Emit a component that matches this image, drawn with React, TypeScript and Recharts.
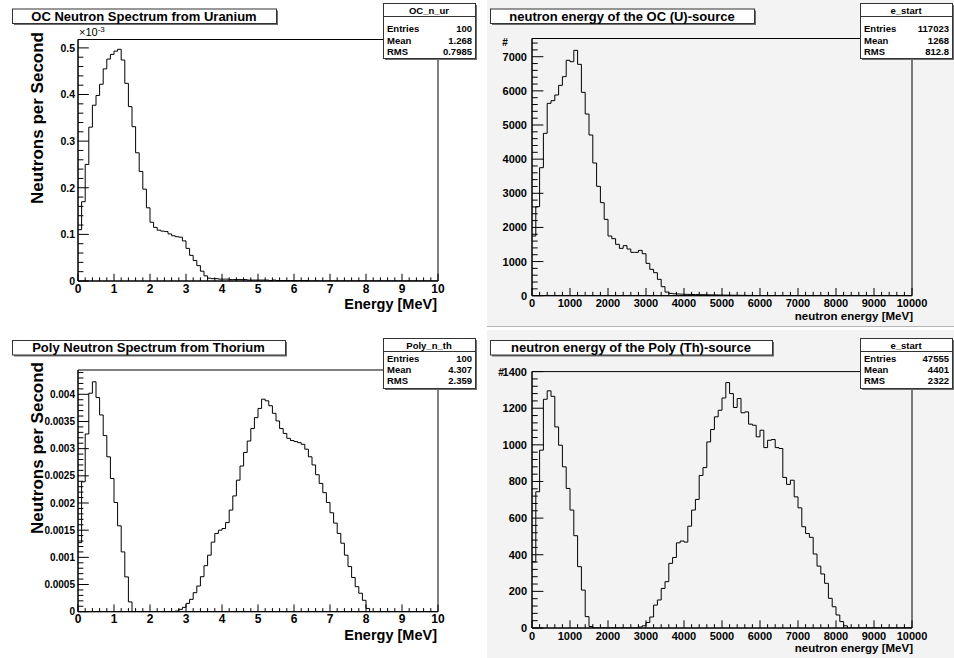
import React from "react";
import { LineChart, Line, XAxis, YAxis, ReferenceArea } from "recharts";

// bin contents, 100 bins per histogram
// OC neutron spectrum from uranium, neutrons per second in units of 1e-3
const ocUrBinsE3 = [
  0.110, 0.170, 0.250, 0.330, 0.377, 0.398, 0.422, 0.455, 0.476, 0.486,
  0.493, 0.497, 0.474, 0.424, 0.374, 0.331, 0.275, 0.235, 0.197, 0.157,
  0.126, 0.115, 0.109, 0.107, 0.106, 0.101, 0.097, 0.095, 0.094, 0.086,
  0.070, 0.055, 0.044, 0.033, 0.021, 0.011, 0.006, 0.005, 0.005, 0.004,
  0.004, 0.004, 0.003, 0.003, 0.003, 0.003, 0.003, 0.002, 0.002, 0.002,
  0.002, 0.002, 0.002, 0.001, 0.002, 0.001, 0.001, 0.001, 0.001, 0.001,
  0.001, 0.001, 0.001, 0.001, 0, 0, 0, 0, 0, 0,
  0, 0, 0, 0, 0, 0, 0, 0, 0, 0,
  0, 0, 0, 0, 0, 0, 0, 0, 0, 0,
  0, 0, 0, 0, 0, 0, 0, 0, 0, 0,
];

// e_start of the OC (U) source, counts per 100 bin
const ocStartBins = [
  1748, 2607, 3750, 4756, 5635, 5713, 5879, 6162, 6416, 6895,
  6855, 7187, 6777, 5957, 5322, 4707, 3887, 3203, 2725, 2236,
  1748, 1670, 1504, 1387, 1465, 1367, 1270, 1270, 1328, 1230,
  947, 771, 674, 479, 264, 107, 68, 55, 50, 45,
  40, 38, 35, 33, 30, 28, 26, 24, 22, 20,
  18, 16, 15, 14, 12, 10, 9, 8, 7, 6,
  5, 4, 3, 2, 1, 0, 0, 0, 0, 0,
  0, 0, 0, 0, 0, 0, 0, 0, 0, 0,
  0, 0, 0, 0, 0, 0, 0, 0, 0, 0,
  0, 0, 0, 0, 0, 0, 0, 0, 0, 0,
];

// Poly neutron spectrum from thorium, neutrons per second
const polyThBins = [
  0.00127, 0.00239, 0.00327, 0.00402, 0.00423, 0.00394, 0.00362, 0.00324, 0.00285, 0.00245,
  0.00201, 0.00158, 0.00110, 0.00064, 0.00018, 0, 0, 0, 0, 0,
  0, 0, 0, 0, 0, 0, 0, 0.000012, 0.000043, 0.00008,
  0.000153, 0.000227, 0.00035, 0.000472, 0.000644, 0.000847, 0.00104, 0.00128, 0.00144, 0.0015,
  0.00153, 0.00164, 0.00187, 0.00213, 0.00242, 0.00268, 0.00293, 0.00314, 0.00337, 0.00357,
  0.00374, 0.00391, 0.00388, 0.00379, 0.00365, 0.00351, 0.00337, 0.00328, 0.00319, 0.00315,
  0.00313, 0.00311, 0.00308, 0.00299, 0.00285, 0.0027, 0.00252, 0.00236, 0.00219, 0.00201,
  0.00182, 0.00163, 0.00144, 0.00126, 0.00104, 0.00083, 0.00063, 0.00046, 0.00034, 0.00021,
  0.00006, 0, 0, 0, 0, 0, 0, 0, 0, 0,
  0, 0, 0, 0, 0, 0, 0, 0, 0, 0,
];

// e_start of the Poly (Th) source, counts per 100 bin
const polyStartBins = [
  362, 744, 971, 1249, 1295, 1265, 1098, 998, 880, 762,
  644, 504, 335, 207, 62, 8, 0, 0, 0, 0,
  0, 0, 0, 0, 0, 0, 0, 0, 5, 12,
  30, 60, 125, 153, 216, 253, 353, 385, 465, 475,
  469, 556, 644, 702, 833, 876, 1016, 1084, 1153, 1189,
  1256, 1340, 1280, 1204, 1253, 1175, 1180, 1113, 1107, 1044,
  1080, 985, 1025, 1029, 985, 980, 822, 784, 807, 716,
  656, 553, 516, 495, 404, 338, 295, 244, 162, 116,
  71, 35, 12, 0, 0, 0, 0, 0, 0, 0,
  0, 0, 0, 0, 0, 0, 0, 0, 0, 0,
];

const mevTicks = [0, 1, 2, 3, 4, 5, 6, 7, 8, 9, 10];
const startTicks = [0, 1000, 2000, 3000, 4000, 5000, 6000, 7000, 8000, 9000, 10000];
const ocUrYTicks = [0, 0.1, 0.2, 0.3, 0.4, 0.5];
const ocStartYTicks = [0, 1000, 2000, 3000, 4000, 5000, 6000, 7000];
const polyThYTicks = [0, 0.0005, 0.001, 0.0015, 0.002, 0.0025, 0.003, 0.0035, 0.004];
const polyStartYTicks = [0, 200, 400, 600, 800, 1000, 1200, 1400];

const FONT = "'Liberation Sans', Arial, Helvetica, sans-serif";

type Panel = {
  box: { x: number; y: number; w: number; h: number };
  frame: { x0: number; x1: number; y0: number; y1: number };
  bins: number[];
  xMax: number;
  yMax: number;
  xMajors: number[];
  yMajors: number[];
  xLabelSize: number;
  yLabelSize: number;
  xLabelDy: number;
  yLabelGap: number;
};

const round9 = (v: number) => Math.round(v * 1e9) / 1e9;

function withMinor(majors: number[], div: number, max: number) {
  const step = (majors[1] - majors[0]) / div;
  const out: number[] = [];
  for (let i = 0; ; i++) {
    const t = round9(i * step);
    if (t > max + 1e-12) break;
    out.push(t);
  }
  return out;
}

const isMajor = (v: number, majors: number[]) => majors.some((m) => Math.abs(m - v) < 1e-9);

function HistPanel({ p }: { p: Panel }) {
  const { box, frame } = p;
  const left = frame.x0 - box.x;
  const top = frame.y0 - box.y;
  const right = box.x + box.w - frame.x1;
  const bottom = box.y + box.h - frame.y1;
  const fw = frame.x1 - frame.x0;
  const fh = frame.y1 - frame.y0;
  const xLen = 0.03 * fh;
  const yLen = 0.03 * fw;
  const binW = p.xMax / p.bins.length;
  const data = p.bins
    .map((v, i) => ({ e: round9(i * binW), v }))
    .concat([{ e: p.xMax, v: p.bins[p.bins.length - 1] }]);

  const xTick = (t: any) => {
    const v = t.payload.value;
    const major = isMajor(v, p.xMajors);
    return (
      <g>
        <line x1={t.x} x2={t.x} y1={t.y} y2={t.y - (major ? xLen : xLen / 2)} stroke="#000" />
        {major && (
          <text x={t.x} y={t.y + p.xLabelDy} textAnchor="middle" fontSize={p.xLabelSize}
            fontWeight="bold" fontFamily={FONT} fill="#000">
            {String(v)}
          </text>
        )}
      </g>
    );
  };
  const yTick = (t: any) => {
    const v = t.payload.value;
    const major = isMajor(v, p.yMajors);
    return (
      <g>
        <line x1={t.x} x2={t.x + (major ? yLen : yLen / 2)} y1={t.y} y2={t.y} stroke="#000" />
        {major && (
          <text x={t.x - p.yLabelGap} y={t.y + p.yLabelSize * 0.36} textAnchor="end" fontSize={p.yLabelSize}
            fontWeight="bold" fontFamily={FONT} fill="#000">
            {String(v)}
          </text>
        )}
      </g>
    );
  };

  return (
    <div style={{ position: "absolute", left: box.x, top: box.y }}>
      <LineChart width={box.w} height={box.h} data={data}
        margin={{ top, right, bottom: 0, left: 0 }}>
        <XAxis type="number" dataKey="e" domain={[0, p.xMax]} allowDataOverflow
          ticks={withMinor(p.xMajors, 5, p.xMax)} interval={0} tickSize={0} tickMargin={0}
          height={bottom} tick={xTick} tickLine={false} axisLine={{ stroke: "#000" }} />
        <YAxis type="number" domain={[0, p.yMax]} allowDataOverflow
          ticks={withMinor(p.yMajors, 5, p.yMax)} interval={0} tickSize={0} tickMargin={0}
          width={left} tick={yTick} tickLine={false} axisLine={{ stroke: "#000" }} />
        <Line type="stepAfter" dataKey="v" stroke="#000" strokeWidth={1} dot={false}
          isAnimationActive={false} />
        <ReferenceArea x1={0} x2={p.xMax} y1={0} y2={p.yMax} fill="none" stroke="#000"
          strokeOpacity={1} ifOverflow="visible" />
      </LineChart>
    </div>
  );
}

const panels: Panel[] = [
  {
    box: { x: 0, y: 0, w: 477, h: 329 },
    frame: { x0: 78, x1: 438, y0: 39.5, y1: 281 },
    bins: ocUrBinsE3, xMax: 10, yMax: 0.518,
    xMajors: mevTicks, yMajors: ocUrYTicks,
    xLabelSize: 12, yLabelSize: 10.5, xLabelDy: 11.5, yLabelGap: 3,
  },
  {
    box: { x: 477, y: 0, w: 477, h: 329 },
    frame: { x0: 532, x1: 912, y0: 38.5, y1: 295.7 },
    bins: ocStartBins, xMax: 10000, yMax: 7534,
    xMajors: startTicks, yMajors: ocStartYTicks,
    xLabelSize: 11, yLabelSize: 11, xLabelDy: 11.6, yLabelGap: 5,
  },
  {
    box: { x: 0, y: 329, w: 477, h: 329 },
    frame: { x0: 78, x1: 438, y0: 370, y1: 611.7 },
    bins: polyThBins, xMax: 10, yMax: 0.004447,
    xMajors: mevTicks, yMajors: polyThYTicks,
    xLabelSize: 12, yLabelSize: 10, xLabelDy: 11.5, yLabelGap: 3,
  },
  {
    box: { x: 477, y: 329, w: 477, h: 329 },
    frame: { x0: 532, x1: 912, y0: 371.6, y1: 628 },
    bins: polyStartBins, xMax: 10000, yMax: 1400,
    xMajors: startTicks, yMajors: polyStartYTicks,
    xLabelSize: 11, yLabelSize: 11, xLabelDy: 11.6, yLabelGap: 5,
  },
];

function Pave({ x, y, w, h }: { x: number; y: number; w: number; h: number }) {
  return (
    <g>
      <rect x={x + 2} y={y + 2} width={w} height={h} fill="#6e6e6e" />
      <rect x={x + 0.5} y={y + 0.5} width={w} height={h} fill="#fff" stroke="#333" strokeWidth={1} />
    </g>
  );
}

function TitleBox({ x, y, w, text }: { x: number; y: number; w: number; text: string }) {
  return (
    <g>
      <Pave x={x} y={y} w={w} h={14.5} />
      <text x={x + w / 2} y={y + 12.3} textAnchor="middle" fontSize={13} fontWeight="bold"
        fontFamily={FONT} fill="#000">{text}</text>
    </g>
  );
}

function StatsBox({ x, y, h, name, rows, rowY }: {
  x: number; y: number; h: number; name: string; rows: string[][]; rowY: number[];
}) {
  const w = 92;
  return (
    <g fontFamily={FONT} fontWeight="bold" fontSize={9.5} fill="#000">
      <Pave x={x} y={y} w={w} h={h} />
      <text x={x + w / 2} y={y + 11} textAnchor="middle">{name}</text>
      <line x1={x} x2={x + w} y1={y + 13.5} y2={y + 13.5} stroke="#333" />
      {rows.map((r, i) => (
        <g key={r[0]}>
          <text x={x + 4} y={rowY[i]}>{r[0]}</text>
          <text x={x + w - 3} y={rowY[i]} textAnchor="end">{r[1]}</text>
        </g>
      ))}
    </g>
  );
}

export default function App() {
  return (
    <div style={{ position: "absolute", left: 0, top: 0, width: 954, height: 658, background: "#fff", overflow: "hidden" }}>
      <svg width={954} height={658} style={{ position: "absolute", left: 0, top: 0 }}>
        <rect x={487} y={0} width={467} height={326} fill="#f3f3f3" />
        <line x1={487} x2={954} y1={326.5} y2={326.5} stroke="#b4b4b4" />
        <rect x={487} y={330} width={467} height={328} fill="#f3f3f3" />
      </svg>
      {panels.map((p, i) => (
        <HistPanel key={i} p={p} />
      ))}
      <svg width={954} height={658} style={{ position: "absolute", left: 0, top: 0, pointerEvents: "none" }}>
        <TitleBox x={12} y={8.5} w={264} text="OC Neutron Spectrum from Uranium" />
        <TitleBox x={490} y={8.5} w={264} text="neutron energy of the OC (U)-source" />
        <TitleBox x={12} y={340} w={273} text="Poly Neutron Spectrum from Thorium" />
        <TitleBox x={490} y={340} w={282} text="neutron energy of the Poly (Th)-source" />

        <StatsBox x={383} y={3} h={55} name="OC_n_ur"
          rows={[["Entries", "100"], ["Mean", "1.268"], ["RMS", "0.7985"]]} rowY={[31.5, 43.5, 55]} />
        <StatsBox x={860} y={3} h={55} name="e_start"
          rows={[["Entries", "117023"], ["Mean", "1268"], ["RMS", "812.8"]]} rowY={[31.5, 43.5, 55]} />
        <StatsBox x={383} y={338} h={50} name="Poly_n_th"
          rows={[["Entries", "100"], ["Mean", "4.307"], ["RMS", "2.359"]]} rowY={[362, 373, 384]} />
        <StatsBox x={860} y={338} h={50} name="e_start"
          rows={[["Entries", "47555"], ["Mean", "4401"], ["RMS", "2322"]]} rowY={[362, 373, 384]} />

        <g fontFamily={FONT} fontWeight="bold" fill="#000">
          <text x={43} y={32} fontSize={17} textAnchor="end" transform="rotate(-90, 43, 32)">Neutrons per Second</text>
          <text x={43} y={362} fontSize={17} textAnchor="end" transform="rotate(-90, 43, 362)">Neutrons per Second</text>
          <text x={437} y={309} fontSize={14.5} textAnchor="end">Energy [MeV]</text>
          <text x={437} y={640} fontSize={14.5} textAnchor="end">Energy [MeV]</text>
          <text x={913} y={320} fontSize={11.5} textAnchor="end">neutron energy [MeV]</text>
          <text x={913} y={652} fontSize={11.5} textAnchor="end">neutron energy [MeV]</text>
          <text x={505} y={46} fontSize={10} textAnchor="middle">#</text>
          <text x={501} y={376} fontSize={10} textAnchor="middle">#</text>
          <text x={79} y={36} fontSize={11} fontWeight="normal">
            ×10<tspan dy={-4} fontSize={8}>-3</tspan>
          </text>
        </g>
      </svg>
    </div>
  );
}
